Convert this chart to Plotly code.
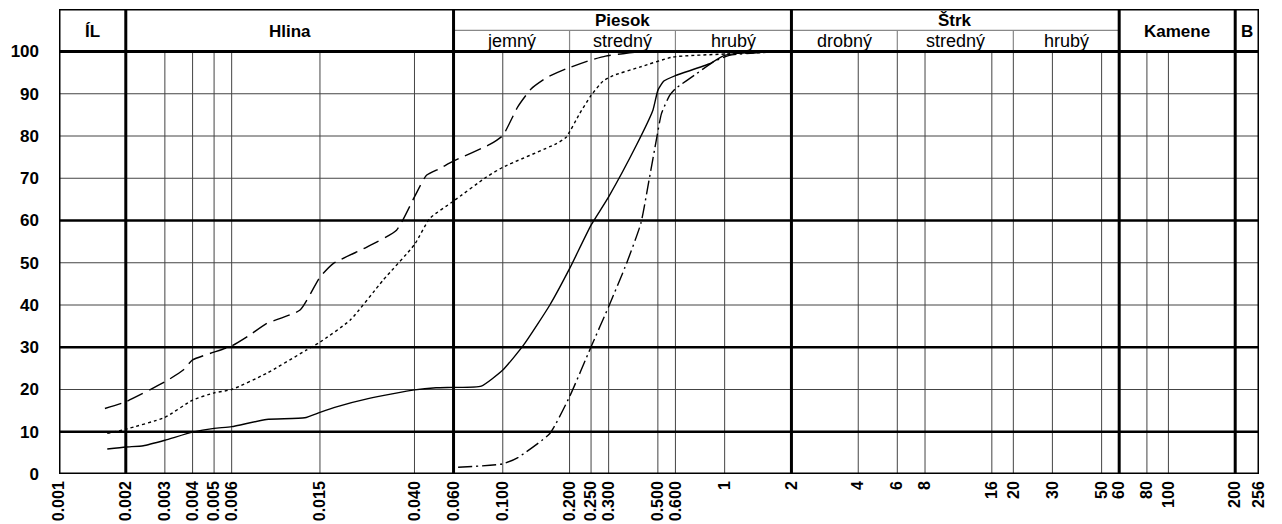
import numpy as np
import plotly.graph_objects as go

# ---- data ----
d_long = [0.00161, 0.002, 0.003, 0.00363, 0.004, 0.006, 0.00725, 0.0086, 0.0122, 0.015, 0.0172, 0.0244,
          0.0332, 0.040, 0.0453, 0.052, 0.060, 0.0874, 0.100, 0.1168, 0.1345, 0.1587, 0.193, 0.2466,
          0.2906, 0.36, 0.45, 2.0]
p_long = [15.5, 17.1, 21.8, 24.6, 27.0, 30.3, 32.9, 35.6, 38.8, 46.6, 49.8, 53.7,
          57.7, 65.6, 70.7, 72.3, 74.1, 78.0, 80.1, 86.9, 91.2, 93.9, 95.9, 97.9,
          98.9, 99.6, 100, 100]

d_dot = [0.00165, 0.002, 0.003, 0.004, 0.005, 0.006, 0.0086, 0.013, 0.015, 0.0205, 0.0289, 0.040,
         0.0469, 0.060, 0.0845, 0.100, 0.1745, 0.193, 0.222, 0.250, 0.283, 0.314, 0.414, 0.585, 1.0, 2.0]
p_dot = [9.6, 10.6, 13.4, 17.5, 19.2, 20.0, 23.8, 29.3, 31.2, 36.4, 45.9, 54.3,
         60.5, 64.6, 70.3, 72.6, 78.2, 79.7, 85.3, 89.6, 93.0, 94.3, 96.3, 98.7, 99.4, 100]

d_solid = [0.00165, 0.002, 0.0024, 0.003, 0.004, 0.005, 0.006, 0.0086, 0.0128, 0.015, 0.0178, 0.025,
           0.040, 0.050, 0.060, 0.080, 0.100, 0.124, 0.163, 0.200, 0.250, 0.300, 0.400, 0.475,
           0.500, 0.532, 0.600, 0.856, 1.0, 1.65, 2.0]
p_solid = [5.9, 6.4, 6.7, 8.0, 9.9, 10.8, 11.2, 12.9, 13.3, 14.6, 15.9, 17.9,
           19.9, 20.4, 20.5, 20.8, 24.6, 30.5, 40.0, 48.6, 58.9, 65.6, 77.8, 86.1,
           90.8, 93.0, 94.3, 97.1, 99.1, 100, 100]

d_dashdot = [0.0629, 0.100, 0.117, 0.163, 0.200, 0.250, 0.300, 0.361, 0.419, 0.459, 0.492, 0.519,
             0.565, 0.600, 0.745, 0.886, 1.05, 1.5, 2.0]
p_dashdot = [1.6, 2.4, 3.9, 9.6, 18.3, 30.1, 39.6, 49.8, 59.3, 70.3, 79.0, 85.3,
             89.6, 91.2, 94.7, 97.5, 99.1, 99.8, 100]

x_ticks = [0.001, 0.002, 0.003, 0.004, 0.005, 0.006, 0.015, 0.040, 0.060, 0.100, 0.200, 0.250, 0.300,
           0.500, 0.600, 1, 2, 4, 6, 8, 16, 20, 30, 50, 60, 80, 100, 200, 256]
x_labels = ["0.001", "0.002", "0.003", "0.004", "0.005", "0.006", "0.015", "0.040", "0.060", "0.100",
            "0.200", "0.250", "0.300", "0.500", "0.600", "1", "2", "4", "6", "8", "16", "20", "30",
            "50", "60", "80", "100", "200", "256"]
y_ticks = [0, 10, 20, 30, 40, 50, 60, 70, 80, 90, 100]

thick_x = [0.002, 0.060, 2, 60, 200]
thick_y = [10, 30, 60]
sub_dividers = [0.2, 0.6, 6, 20]

main_groups = [("ÍL", 0.001, 0.002), ("Hlina", 0.002, 0.060), ("Kamene", 60, 200), ("B", 200, 256)]
top_groups = [("Piesok", 0.060, 2), ("Štrk", 2, 60)]
sub_groups = [("jemný", 0.060, 0.2), ("stredný", 0.2, 0.6), ("hrubý", 0.6, 2),
              ("drobný", 2, 6), ("stredný", 6, 20), ("hrubý", 20, 60)]

XMIN, XMAX = 0.001, 256
YTOP = 110.06
Y_SUB = 105.0    # line between main header and sub header
Y_MAIN = 104.85
Y_TOPLBL = 107.3
Y_SUBLBL = 102.6

fig = go.Figure()

shapes = []
for v in x_ticks:
    if v in thick_x or v in (XMIN, XMAX):
        continue
    shapes.append(dict(type="line", x0=v, x1=v, y0=0, y1=100, xref="x", yref="y",
                       line=dict(color="#444444", width=1), layer="below"))
for h in y_ticks:
    if h in thick_y or h in (0, 100):
        continue
    shapes.append(dict(type="line", x0=XMIN, x1=XMAX, y0=h, y1=h, xref="x", yref="y",
                       line=dict(color="#444444", width=1), layer="below"))
for h in thick_y:
    shapes.append(dict(type="line", x0=XMIN, x1=XMAX, y0=h, y1=h, xref="x", yref="y",
                       line=dict(color="black", width=2.5), layer="below"))
shapes.append(dict(type="line", x0=0.060, x1=60, y0=Y_SUB, y1=Y_SUB, xref="x", yref="y",
                   line=dict(color="#888888", width=1.2)))
for v in sub_dividers:
    shapes.append(dict(type="line", x0=v, x1=v, y0=100, y1=Y_SUB, xref="x", yref="y",
                       line=dict(color="#888888", width=1.2)))
for v in thick_x:
    shapes.append(dict(type="line", x0=v, x1=v, y0=0, y1=YTOP, xref="x", yref="y",
                       line=dict(color="black", width=3)))
for h in (0, 100, YTOP):
    shapes.append(dict(type="line", x0=XMIN, x1=XMAX, y0=h, y1=h, xref="x", yref="y",
                       line=dict(color="black", width=3)))
for v in (XMIN, XMAX):
    shapes.append(dict(type="line", x0=v, x1=v, y0=0, y1=YTOP, xref="x", yref="y",
                       line=dict(color="black", width=3)))

def cx(a, b):
    return (np.log10(a) + np.log10(b)) / 2

FONT = "Liberation Sans"
annotations = []
for name, a, b in main_groups:
    annotations.append(dict(x=cx(a, b), y=Y_MAIN, xref="x", yref="y", text="<b>%s</b>" % name,
                            showarrow=False, font=dict(size=17, color="black", family=FONT)))
for name, a, b in top_groups:
    annotations.append(dict(x=cx(a, b), y=Y_TOPLBL, xref="x", yref="y", text="<b>%s</b>" % name,
                            showarrow=False, font=dict(size=17, color="black", family=FONT)))
for name, a, b in sub_groups:
    annotations.append(dict(x=cx(a, b), y=Y_SUBLBL, xref="x", yref="y", text=name,
                            showarrow=False, font=dict(size=18, color="black", family=FONT)))

line_common = dict(color="black", width=1.4, shape="spline", smoothing=0.5)
fig.add_trace(go.Scatter(x=d_long, y=p_long, mode="lines",
                         line=dict(dash="17px,7px", **line_common), showlegend=False))
fig.add_trace(go.Scatter(x=d_dot, y=p_dot, mode="lines",
                         line=dict(dash="3px,3px", **line_common), showlegend=False))
fig.add_trace(go.Scatter(x=d_solid, y=p_solid, mode="lines",
                         line=dict(**line_common), showlegend=False))
fig.add_trace(go.Scatter(x=d_dashdot, y=p_dashdot, mode="lines",
                         line=dict(dash="14px,4px,2px,4px", **line_common), showlegend=False))

fig.update_layout(
    width=1282, height=524,
    margin=dict(l=59, r=23, t=9, b=50, autoexpand=False),
    paper_bgcolor="white", plot_bgcolor="white",
    shapes=shapes, annotations=annotations,
    font=dict(family=FONT, color="black"),
    xaxis=dict(type="log", range=[np.log10(XMIN), np.log10(XMAX)], tickvals=x_ticks,
               ticktext=["<b>%s</b>" % t for t in x_labels], tickangle=-90,
               showgrid=False, zeroline=False, showline=False, ticks="", automargin=False,
               tickfont=dict(size=16, family=FONT, color="black"),
               ticklabelstandoff=3),
    yaxis=dict(range=[0, YTOP], tickvals=y_ticks, ticktext=["<b>%d</b>" % t for t in y_ticks],
               showgrid=False, zeroline=False, showline=False, ticks="", automargin=False,
               tickfont=dict(size=17, family=FONT, color="black"),
               ticklabelstandoff=19),
)

fig.write_html("out.html")
